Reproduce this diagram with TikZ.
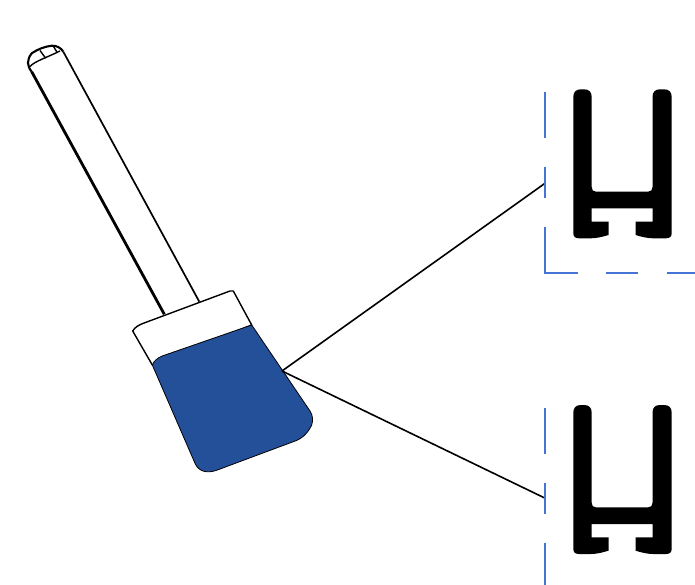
\documentclass[tikz,border=0pt]{standalone}
\definecolor{brushblue}{HTML}{24509A}
\definecolor{dashblue}{HTML}{4474D6}
\tikzset{
  outline/.style={draw=black,line width=1.4pt,line join=round},
  guide/.style={draw=dashblue,line width=1.9pt},
  leader/.style={draw=black,line width=1.6pt},
  profile/.style={fill=black,draw=none},
  hprofile/.pic={
    \fill[profile]
      (573.3,97) .. controls (573.3,92) and (576,89.3) .. (581,89.3)
      -- (584,89.3) .. controls (589,89.3) and (591.7,92) .. (591.7,97)
      -- (591.7,187) .. controls (591.7,190) and (593,191.7) .. (596,191.7)
      -- (648,191.7) .. controls (651,191.7) and (652.5,190) .. (652.5,187)
      -- (652.5,97) .. controls (652.5,92) and (655,89.3) .. (660,89.3)
      -- (664,89.3) .. controls (669,89.3) and (671.7,92) .. (671.7,97)
      -- (671.7,233) .. controls (671.7,236.5) and (670,238.3) .. (666,238.3)
      -- (653,238.3) .. controls (648,238.3) and (642,237) .. (635.5,235)
      -- (635.5,221.7) -- (652.5,221.7) -- (652.5,208.3) -- (591.7,208.3) -- (591.7,221.7)
      -- (608.5,221.7) -- (608.5,235) .. controls (602,237) and (596,238.3) .. (591,238.3)
      -- (579,238.3) .. controls (575,238.3) and (573.3,236.5) .. (573.3,233) -- cycle;
  }
}
\begin{document}
\begin{tikzpicture}[x=1pt,y=-1pt]
\useasboundingbox (0,0) rectangle (695,585);
% handle
\draw[outline,line width=2.8pt] (164.3,314.3) -- (31.7,71.7);
\draw[outline,line width=2.1pt] (31.7,71.7) .. controls (27,66) and (26.5,60) .. (31.7,53.3)
  .. controls (38,49) and (45,46.5) .. (51.7,45.7) .. controls (57,45.5) and (61,48) .. (63.3,51.7);
\draw[outline,line width=1.7pt] (63.3,51.7) -- (199.3,301.7);
\draw[outline] (30.2,66.5) .. controls (33,62) and (48,57) .. (60,51);
\draw[outline] (40,50.5) -- (45.7,58.3);
\draw[outline] (53.5,46.5) -- (57.5,53);
% brush ferrule and blue bristles
\path[outline,fill=white] (132.7,331) .. controls (135,327) and (139,325) .. (143.3,323.3)
  -- (230,291) -- (233.3,291) -- (251.7,325) -- (152.3,365) -- cycle;
\path[outline,fill=brushblue,line width=0.8pt] (152.3,365) .. controls (154,361) and (157,358) .. (163,355.7)
  -- (251.7,325) -- (310,411) .. controls (313,415) and (313,421) .. (311.7,425)
  .. controls (308,433) and (302,439) .. (293.3,441.7)
  -- (216,470.5) .. controls (208,473) and (199,472.5) .. (195,463.3) -- cycle;
% leaders
\coordinate (tip) at (282,371);
\coordinate (upper) at (544.7,183.5);
\coordinate (lower) at (544.7,498);
\draw[leader] (tip) -- (upper);
\draw[leader] (tip) -- (lower);
% guides
\draw[guide] (544.7,92.3) -- (544.7,138.3);
\draw[guide] (544.7,167.3) -- (544.7,198.3);
\draw[guide] (544.7,227.3) -- (544.7,272.7) -- (577.7,272.7);
\draw[guide] (606.3,272.7) -- (637.7,272.7);
\draw[guide] (666.7,272.7) -- (695,272.7);
\draw[guide] (544.7,407.7) -- (544.7,454);
\draw[guide] (544.7,483) -- (544.7,514);
\draw[guide] (544.7,543.3) -- (544.7,585);
% profiles
\pic at (0,0) {hprofile};
\pic at (0,315.7) {hprofile};
\end{tikzpicture}
\end{document}
